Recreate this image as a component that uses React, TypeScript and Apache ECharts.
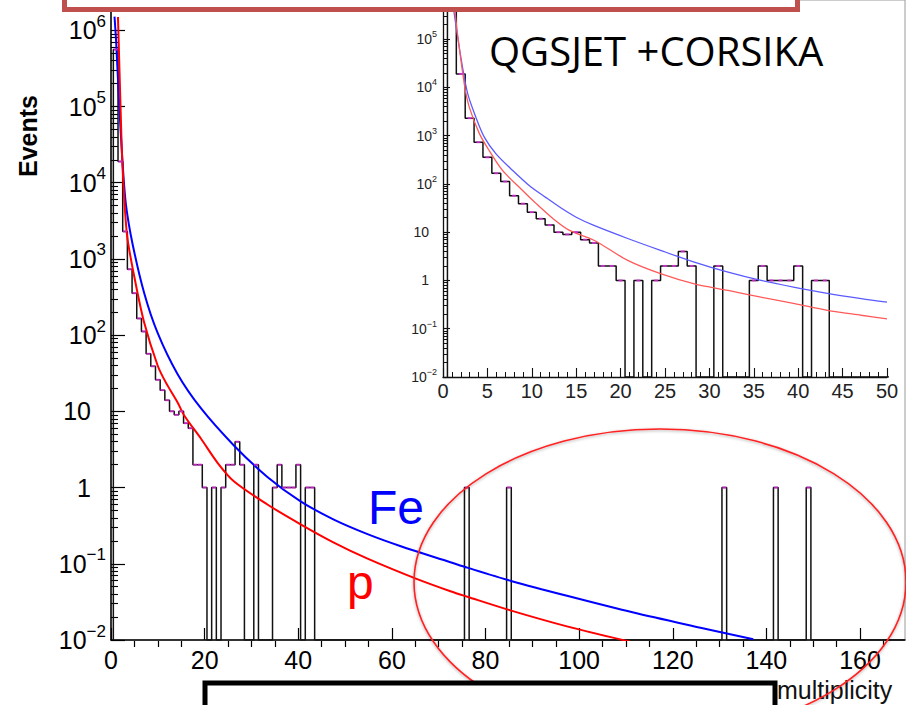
import { useEffect, useRef } from 'react';
import * as echarts from 'echarts';

const FONT = '"Liberation Sans", Arial, Helvetica, sans-serif';
const NARROW = '"Liberation Sans Narrow", "Liberation Sans", Arial, sans-serif';

// ---------------- data ----------------
// histogram: multiplicities with non-zero event counts (all other bins are empty)
const binMultiplicity = [1, 2, 3, 4, 5, 6, 7, 8, 9, 10, 11, 12, 13, 14, 15, 16, 17, 18, 19, 20, 22, 24, 25, 26, 27, 28, 31, 35, 36, 37, 38, 39, 40, 42, 43, 76, 85, 131, 142, 149];
const binEvents = [5.6e5, 1.9e4, 2300, 730, 355, 166, 112, 57, 39, 26, 19, 14, 10, 9, 10, 7, 6, 2, 2, 1, 1, 1, 2, 2, 4, 2, 2, 1, 2, 1, 1, 1, 2, 1, 1, 1, 1, 1, 1, 1];

// simulated curves (main panel)
const feMain: [number, number][] = [[0.75, 1.51e6], [1.07, 7.6e5], [1.77, 1.02e5], [2.5, 1.7e4], [3.2, 5.1e3], [4.63, 1.55e3], [7.1, 355], [9.96, 107], [14.2, 31], [19.2, 11], [26.2, 3.6], [33.4, 1.38], [40.5, 0.66], [47.6, 0.38], [54.8, 0.245], [61.9, 0.17], [72.5, 0.105], [76.1, 0.089], [85.3, 0.06], [97.4, 0.038], [111.6, 0.0229], [125.9, 0.0145], [137.2, 0.0102]];
const pMain: [number, number][] = [[1.49, 1.5e6], [2.03, 1.02e5], [2.45, 1.7e4], [3.41, 2.1e3], [4.97, 589], [7.1, 145], [9.96, 40], [11.7, 24], [14.2, 13.2], [15.6, 8.9], [19.2, 4.4], [22.8, 2.1], [26.3, 1.2], [33.4, 0.6], [40.5, 0.33], [47.6, 0.19], [54.8, 0.117], [65.4, 0.063], [72.5, 0.0437], [76.1, 0.037], [85.3, 0.0245], [97.4, 0.0151], [110.9, 0.0095]];

// simulated curves (inset)
const feInset: [number, number][] = [[1.15, 6.3e5], [1.27, 3.3e5], [2.2, 2.6e4], [2.78, 7.4e3], [3.7, 2.4e3], [4.65, 930], [5.97, 420], [7.85, 190], [9.7, 93], [11.6, 52], [13.3, 31.6], [15, 20.4], [17, 13.8], [20.8, 7.4], [24.5, 4.2], [28.3, 2.4], [32.1, 1.48], [35.8, 1.0], [39.6, 0.72], [43.3, 0.54], [47.1, 0.42], [50, 0.355]];
const pInset: [number, number][] = [[1.3, 6.3e5], [1.46, 2.4e5], [2.4, 1.17e4], [2.96, 3.9e3], [4.1, 1.1e3], [5.2, 490], [6.7, 190], [8.6, 85], [10.5, 39], [12.4, 19], [14.2, 11], [17, 6.8], [20.8, 2.6], [24.5, 1.38], [28.3, 0.85], [32.1, 0.62], [35.8, 0.45], [39.6, 0.33], [43.3, 0.24], [47.1, 0.19], [50, 0.16]];

// tick labels
const mainXTicks = [0, 20, 40, 60, 80, 100, 120, 140, 160];
const mainYDecades = [1e-2, 1e-1, 1, 10, 1e2, 1e3, 1e4, 1e5, 1e6];
const insetXTicks = [0, 5, 10, 15, 20, 25, 30, 35, 40, 45, 50];
const insetYDecades = [1e-2, 1e-1, 1, 10, 1e2, 1e3, 1e4, 1e5];

const MAIN_X_MAX = 169.6;
const MAIN_Y_MIN = 1e-2;
const MAIN_Y_MAX = 2.5e6;
const INSET_X_MAX = 50;
const INSET_Y_MIN = 1e-2;
const INSET_Y_MAX = 4e5;

// ---------------- helpers ----------------
function histogramOutline(maxN: number, floor: number): [number, number][] {
  const pts: [number, number][] = [[0.5, floor]];
  for (let n = 1; n <= maxN; n++) {
    const i = binMultiplicity.indexOf(n);
    const v = i >= 0 ? binEvents[i] : floor;
    pts.push([n - 0.5, v], [n + 0.5, v]);
  }
  return pts;
}
function binTops(maxN: number): [number, number][] {
  const out: [number, number][] = [];
  binMultiplicity.forEach((n, i) => { if (n <= maxN) out.push([n, binEvents[i]]); });
  return out;
}
function logMinors(decades: number[], max: number): number[] {
  const out: number[] = [];
  decades.forEach((d) => {
    for (let k = 2; k <= 9; k++) { const v = d * k; if (v <= max) out.push(v); }
  });
  return out;
}
function linMinors(step: number, major: number, max: number): number[] {
  const out: number[] = [];
  for (let v = step; v <= max + 1e-9; v += step) {
    const r = Math.round(v * 1000) / 1000;
    if (Math.abs(r / major - Math.round(r / major)) > 1e-6) out.push(r);
  }
  return out;
}
const MINUS = '\u2212';
function decadeLabel(v: number): string {
  const lg = Math.log10(v);
  const e = Math.round(lg);
  if (Math.abs(lg - e) > 1e-6) return '';
  if (e === 0) return '{b|1}{sp| }';
  if (e === 1) return '{b|10}{sp| }';
  return '{b|10}{s|' + (e < 0 ? MINUS + (-e) : String(e)) + '}';
}

const mainRich = {
  b: { fontSize: 25, lineHeight: 25, fontFamily: FONT, color: '#000', verticalAlign: 'middle' },
  s: { fontSize: 17, lineHeight: 17, fontFamily: FONT, color: '#000', verticalAlign: 'middle', padding: [0, 0, 18, 0] },
  sp: { width: 15, fontSize: 17, lineHeight: 17, fontFamily: FONT, verticalAlign: 'middle', padding: [0, 0, 18, 0] },
};
const insetRich = {
  b: { fontSize: 14, lineHeight: 14, fontFamily: FONT, color: '#222', verticalAlign: 'middle' },
  s: { fontSize: 9, lineHeight: 9, fontFamily: FONT, color: '#222', verticalAlign: 'middle', padding: [0, 0, 10, 0] },
  sp: { width: 8, fontSize: 9, lineHeight: 9, fontFamily: FONT, verticalAlign: 'middle', padding: [0, 0, 10, 0] },
};

const MAIN_GRID = { left: 111, top: -7, width: 794, height: 647 };
const INSET_GRID = { left: 443, top: 10, width: 444, height: 367 };

function curveSeries(name: string, xi: number, data: [number, number][], color: string, width: number) {
  return {
    name, type: 'line', xAxisIndex: xi, yAxisIndex: xi, data, smooth: 0.3,
    symbol: 'none', clip: true, lineStyle: { color, width }, z: 4,
  };
}

function buildOption(): any {
  const black = '#000';
  return {
    animation: false,
    backgroundColor: '#ffffff',
    grid: [
      { ...MAIN_GRID, show: true, borderColor: '#9a9a9a', borderWidth: 1, backgroundColor: 'transparent' },
      { ...INSET_GRID, show: false },
    ],
    xAxis: [
      {
        type: 'value', gridIndex: 0, min: 0, max: MAIN_X_MAX, interval: 20, position: 'bottom',
        axisLine: { show: true, onZero: false, lineStyle: { color: black, width: 1.5 } },
        axisTick: { show: true, inside: true, length: 12, customValues: mainXTicks, lineStyle: { color: black, width: 1.2 } },
        axisLabel: { show: true, customValues: mainXTicks, margin: 7, fontSize: 25, lineHeight: 25, fontFamily: FONT, color: black, formatter: (v: number) => String(v) },
        splitLine: { show: false },
      },
      {
        type: 'value', gridIndex: 0, min: 0, max: MAIN_X_MAX, interval: 20, position: 'top', offset: -MAIN_GRID.height,
        axisLine: { show: false, onZero: false },
        axisTick: { show: true, inside: false, length: 6, customValues: linMinors(5, 20, MAIN_X_MAX), lineStyle: { color: black, width: 1.2 } },
        axisLabel: { show: false },
        splitLine: { show: false },
      },
      {
        type: 'value', gridIndex: 1, min: 0, max: INSET_X_MAX, interval: 5, position: 'bottom',
        axisLine: { show: true, onZero: false, lineStyle: { color: '#111', width: 1.3 } },
        axisTick: { show: true, inside: true, length: 9, customValues: insetXTicks, lineStyle: { color: '#111', width: 1.1 } },
        axisLabel: { show: true, customValues: insetXTicks, margin: 4, fontSize: 20, lineHeight: 20, fontFamily: NARROW, color: '#222', formatter: (v: number) => String(v) },
        splitLine: { show: false },
      },
      {
        type: 'value', gridIndex: 1, min: 0, max: INSET_X_MAX, interval: 5, position: 'top', offset: -INSET_GRID.height,
        axisLine: { show: false, onZero: false },
        axisTick: { show: true, inside: false, length: 5, customValues: linMinors(1, 5, INSET_X_MAX), lineStyle: { color: '#111', width: 1 } },
        axisLabel: { show: false },
        splitLine: { show: false },
      },
    ],
    yAxis: [
      {
        type: 'log', logBase: 10, gridIndex: 0, min: MAIN_Y_MIN, max: MAIN_Y_MAX, position: 'left',
        axisLine: { show: true, onZero: false, lineStyle: { color: black, width: 1.5 } },
        axisTick: { show: true, inside: true, length: 14, customValues: mainYDecades, lineStyle: { color: black, width: 1.2 } },
        axisLabel: { show: true, customValues: mainYDecades, margin: 5, formatter: decadeLabel, rich: mainRich },
        splitLine: { show: false },
      },
      {
        type: 'log', logBase: 10, gridIndex: 0, min: MAIN_Y_MIN, max: MAIN_Y_MAX, position: 'right', offset: -MAIN_GRID.width,
        axisLine: { show: false, onZero: false },
        axisTick: { show: true, inside: false, length: 7, customValues: logMinors(mainYDecades, MAIN_Y_MAX), lineStyle: { color: black, width: 1.1 } },
        axisLabel: { show: false },
        splitLine: { show: false },
      },
      {
        type: 'log', logBase: 10, gridIndex: 1, min: INSET_Y_MIN, max: INSET_Y_MAX, position: 'left',
        axisLine: { show: true, onZero: false, lineStyle: { color: '#111', width: 1.3 } },
        axisTick: { show: true, inside: true, length: 7, customValues: insetYDecades, lineStyle: { color: '#111', width: 1.1 } },
        axisLabel: { show: true, customValues: insetYDecades, margin: 6, formatter: decadeLabel, rich: insetRich },
        splitLine: { show: false },
      },
      {
        type: 'log', logBase: 10, gridIndex: 1, min: INSET_Y_MIN, max: INSET_Y_MAX, position: 'right', offset: -INSET_GRID.width,
        axisLine: { show: false, onZero: false },
        axisTick: { show: true, inside: false, length: 4, customValues: logMinors(insetYDecades, INSET_Y_MAX), lineStyle: { color: '#111', width: 1 } },
        axisLabel: { show: false },
        splitLine: { show: false },
      },
    ],
    series: [
      {
        name: 'data', type: 'line', xAxisIndex: 0, yAxisIndex: 0, data: histogramOutline(169, MAIN_Y_MIN),
        symbol: 'none', clip: true, lineStyle: { color: '#111', width: 1.5 }, z: 3,
      },
      curveSeries('Fe', 0, feMain, '#0000ff', 2),
      curveSeries('p', 0, pMain, '#ff0000', 2),
      {
        name: 'tops', type: 'scatter', xAxisIndex: 0, yAxisIndex: 0, data: binTops(169), clip: true,
        symbol: 'rect', symbolSize: [4, 2], itemStyle: { color: '#e030e0' }, z: 5,
      },
      {
        name: 'data inset', type: 'line', xAxisIndex: 2, yAxisIndex: 2, data: histogramOutline(50, INSET_Y_MIN),
        symbol: 'none', clip: true, lineStyle: { color: '#111', width: 1.5 }, z: 3,
      },
      curveSeries('Fe inset', 2, feInset, '#5a5aff', 1.3),
      curveSeries('p inset', 2, pInset, '#ff5a5a', 1.3),
      {
        name: 'tops inset', type: 'scatter', xAxisIndex: 2, yAxisIndex: 2, data: binTops(50), clip: true,
        symbol: 'rect', symbolSize: [4, 2], itemStyle: { color: '#e030e0' }, z: 5,
      },
    ],
    graphic: [
      { type: 'text', z: 100, x: 28, y: 136, rotation: Math.PI / 2, style: { text: 'Events', font: 'bold 25px ' + FONT, fill: '#000', textAlign: 'center', textVerticalAlign: 'middle' } },
      { type: 'text', z: 100, x: 489, y: 50, style: { text: 'QGSJET +CORSIKA', font: '40px "Open Sans"', fill: '#000', textAlign: 'left', textVerticalAlign: 'middle' } },
      { type: 'text', z: 100, x: 368, y: 507, style: { text: 'Fe', font: '48px ' + FONT, fill: '#0000ff', textAlign: 'left', textVerticalAlign: 'middle' } },
      { type: 'text', z: 100, x: 347, y: 582, style: { text: 'p', font: '48px ' + FONT, fill: '#ff0000', textAlign: 'left', textVerticalAlign: 'middle' } },
      { type: 'text', z: 100, x: 777, y: 690, style: { text: 'multiplicity', font: '25px ' + FONT, fill: '#111', textAlign: 'left', textVerticalAlign: 'middle' } },
      { type: 'ellipse', z: 101, shape: { cx: 660, cy: 582, rx: 246, ry: 153 }, style: { fill: 'none', stroke: '#ff2020', lineWidth: 1.6, shadowBlur: 3, shadowColor: 'rgba(0,0,0,0.35)', shadowOffsetY: 1 } },
      { type: 'rect', z: 102, shape: { x: 205, y: 683, width: 570, height: 60 }, style: { fill: '#ffffff', stroke: '#000000', lineWidth: 5 } },
      { type: 'rect', z: 103, shape: { x: 64.5, y: -40, width: 733, height: 49.5 }, style: { fill: '#ffffff', stroke: '#c0504d', lineWidth: 5 } },
    ],
  };
}

export default function App() {
  const ref = useRef<HTMLDivElement>(null);
  useEffect(() => {
    if (!ref.current) return;
    const chart = echarts.init(ref.current, undefined, { renderer: 'svg', width: 906, height: 705 });
    chart.setOption(buildOption());
    return () => chart.dispose();
  }, []);
  return (
    <div
      ref={ref}
      style={{ position: 'fixed', left: 0, top: 0, width: 906, height: 705, background: '#fff' }}
    />
  );
}
